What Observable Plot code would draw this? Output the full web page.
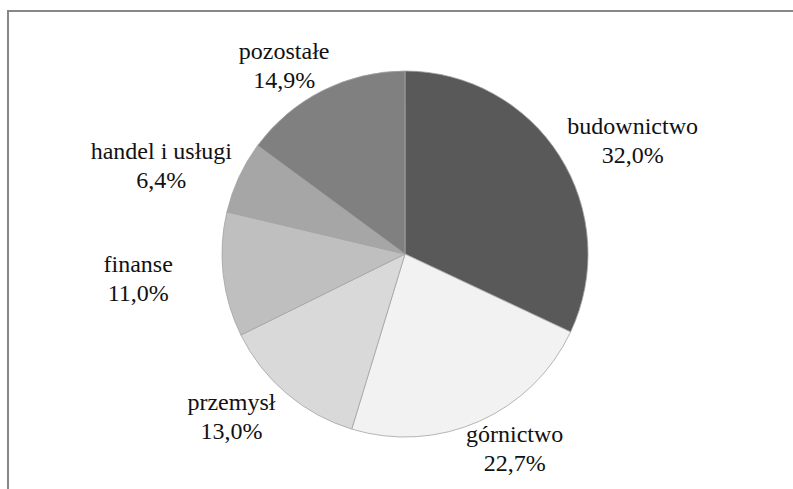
<!DOCTYPE html>
<html><head><meta charset="utf-8">
<script src="https://cdn.jsdelivr.net/npm/d3@7"></script>
<script src="https://cdn.jsdelivr.net/npm/@observablehq/plot@0.6"></script>
</head>
<body style="margin:0;background:#fff">
<div style="position:relative;width:793px;height:489px;overflow:hidden">
  <div style="position:absolute;left:7px;top:10px;width:800px;height:500px;border-top:2px solid #878787;border-left:2px solid #878787;box-sizing:border-box"></div>
  <div id="chart" style="position:absolute;left:0;top:0"></div>
</div>
<script>
const categories = ["budownictwo", "górnictwo", "przemysł", "finanse", "handel i usługi", "pozostałe"];
const shares = [32.0, 22.7, 13.0, 11.0, 6.4, 14.9];
const colors = ["#595959", "#f2f2f2", "#d9d9d9", "#bfbfbf", "#a6a6a6", "#808080"];

const W = 793, H = 489;
// pie in unit-radius coordinates; domains place the centre and radius
const xDomain = [-2.213, 2.120];
const yDomain = [-1.284, 1.388];

const arcs = d3.pie().sort(null).value(d => d.share)(
  categories.map((c, i) => ({category: c, share: shares[i], color: colors[i]}))
);
const labelRx = 1.47, labelRy = 1.16;
const labels = arcs.map(a => {
  const m = (a.startAngle + a.endAngle) / 2;
  return {
    x: labelRx * Math.sin(m),
    y: labelRy * Math.cos(m),
    name: a.data.category,
    pct: a.data.share.toFixed(1).replace(".", ",") + "%"
  };
});

function pieMark(...args) {
  const scales = args.find(a => a && typeof a.x === "function" && typeof a.y === "function");
  const cx = scales.x(0), cy = scales.y(0);
  const r = scales.x(1) - scales.x(0);
  const g = d3.create("svg:g").attr("transform", `translate(${cx},${cy})`);
  const arc = d3.arc().innerRadius(0).outerRadius(r);
  g.selectAll("path").data(arcs).join("path")
    .attr("d", arc)
    .attr("fill", d => d.data.color)
    .attr("stroke", "#a3a3a3")
    .attr("stroke-width", 0.8)
    .attr("stroke-linejoin", "round");
  return g.node();
}

const textOpts = {x: "x", y: "y", fontSize: 24, fontFamily: "Times New Roman", textAnchor: "middle", fill: "#111"};

const p = Plot.plot({
  width: W, height: H, margin: 0,
  x: {domain: xDomain, axis: null},
  y: {domain: yDomain, axis: null},
  style: {fontFamily: "Times New Roman"},
  marks: [
    pieMark,
    Plot.text(labels, {...textOpts, text: "name", dy: -14}),
    Plot.text(labels, {...textOpts, text: "pct", dy: 15})
  ]
});
document.getElementById("chart").appendChild(p);
</script>
</body></html>
